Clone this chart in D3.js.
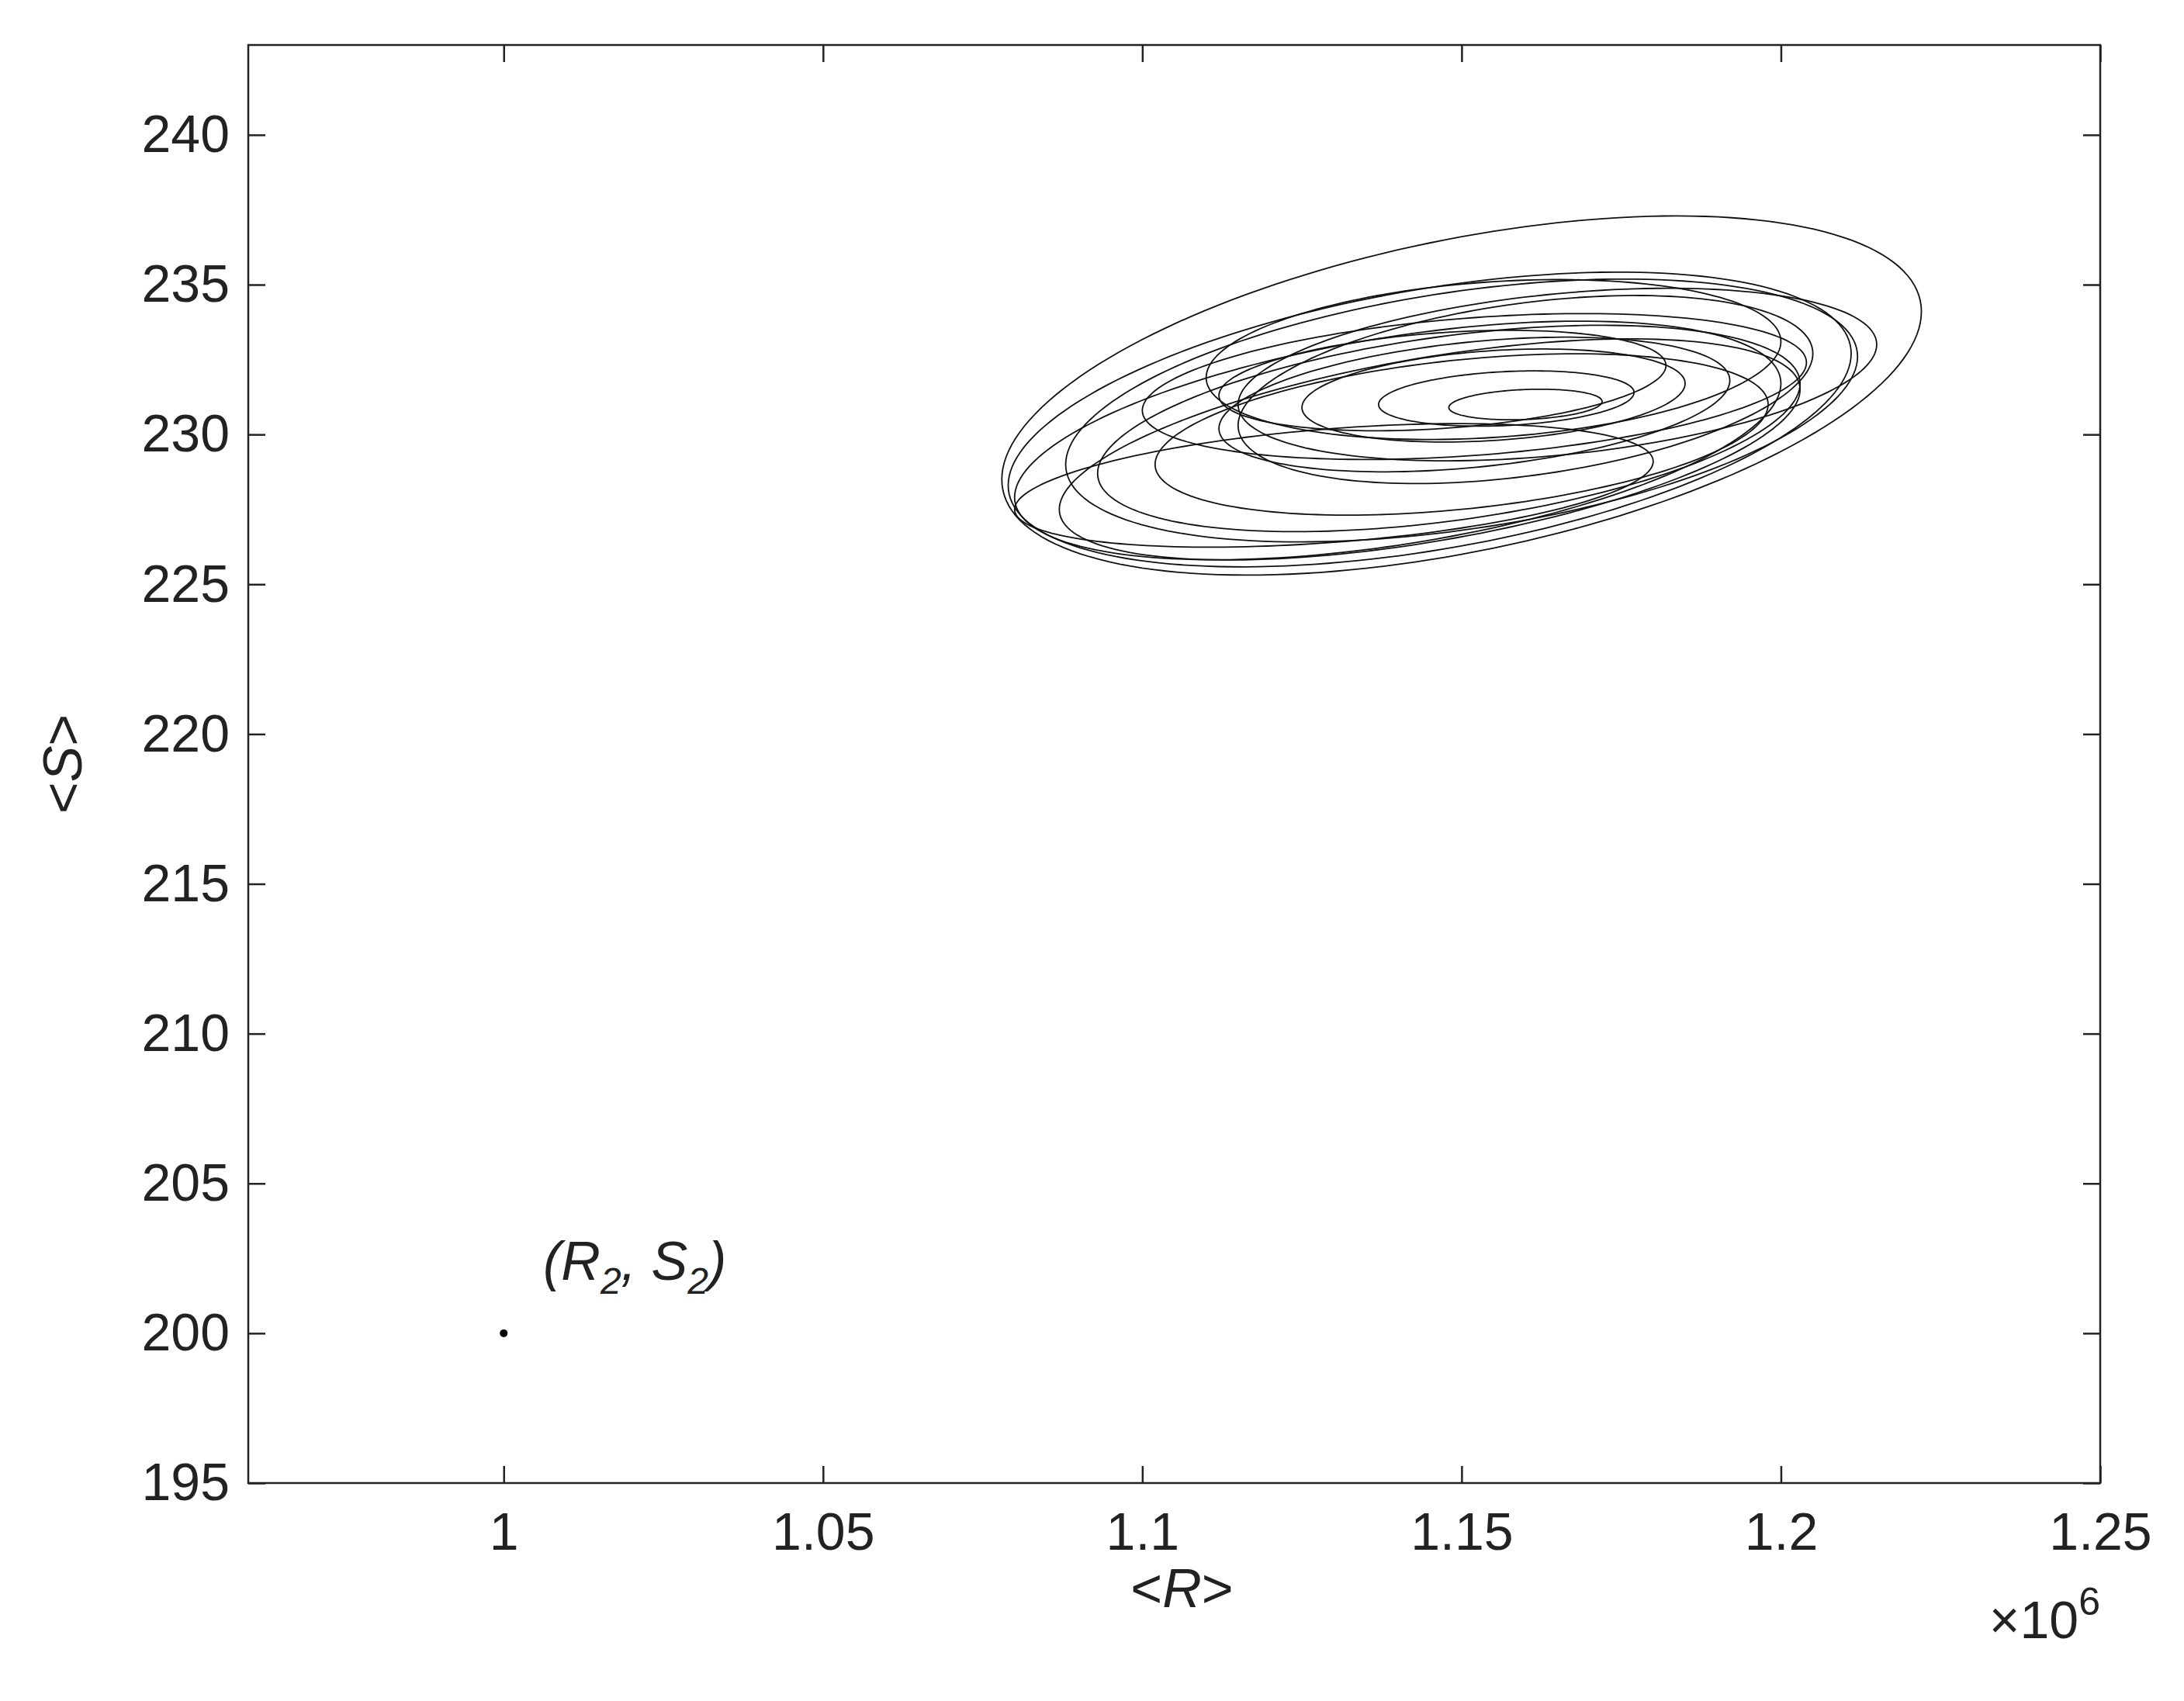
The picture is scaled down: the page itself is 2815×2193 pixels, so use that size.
<!DOCTYPE html>
<html><head><meta charset="utf-8">
<script src="https://cdn.jsdelivr.net/npm/d3@7"></script>
<style>body{margin:0;background:#fff}text{font-family:"Liberation Sans",Arial,sans-serif;fill:#222}</style>
</head><body><svg id="c" width="2815" height="2193"></svg>
<script>
const xTicks=[1,1.05,1.1,1.15,1.2,1.25];
const yTicks=[195,200,205,210,215,220,225,230,235,240];
// loops of the trajectory: centre R (x1e6), centre S, R half-width, S half-height, tilt coupling
const loopCR=[1.150,1.145,1.150,1.155,1.130,1.160,1.148,1.152,1.155,1.157,1.160,1.140,1.165,1.145,1.152,1.150,1.147];
const loopCS=[231.3,230.5,230.8,232.5,228.3,231.5,230.2,231.0,231.3,231.2,231.0,229.8,232.0,229.5,231.6,230.0,231.8];
const loopA=[0.072,0.066,0.062,0.045,0.050,0.045,0.055,0.040,0.030,0.020,0.012,0.060,0.050,0.058,0.052,0.048,0.035];
const loopB=[5.3,4.4,4.0,2.6,1.9,2.9,3.1,2.1,1.5,0.9,0.5,3.5,2.7,3.1,2.3,2.5,1.6];
const loopC=[2.8,2.2,1.8,0.6,0.8,1.2,1.5,0.8,0.4,0.2,0.1,1.9,1.0,2.0,0.8,1.0,0.5];
const eqR=[1.0], eqS=[200];

const W=2815,H=2193,m={l:320,r:2707,t:58,b:1912};
const svg=d3.select("#c");
const x=d3.scaleLinear().domain([0.96,1.25]).range([m.l,m.r]);
const y=d3.scaleLinear().domain([195,243]).range([m.b,m.t]);
const fs=68,tl=22;
svg.append("g").attr("transform",`translate(0,${m.b})`).call(d3.axisBottom(x).tickValues(xTicks).tickFormat(d3.format("")).tickSizeInner(-tl).tickSizeOuter(0).tickPadding(38));
svg.append("g").attr("transform",`translate(${m.l},0)`).call(d3.axisLeft(y).tickValues(yTicks).tickSizeInner(-tl).tickSizeOuter(0).tickPadding(24));
svg.append("g").attr("transform",`translate(0,${m.t})`).call(d3.axisTop(x).tickValues(xTicks).tickFormat("").tickSizeInner(-tl).tickSizeOuter(0));
svg.append("g").attr("transform",`translate(${m.r},0)`).call(d3.axisRight(y).tickValues(yTicks).tickFormat("").tickSizeInner(-tl).tickSizeOuter(0));
svg.selectAll(".domain").remove();
svg.selectAll(".tick line").attr("stroke","#222").attr("stroke-width",2.5);
svg.selectAll(".tick text").style("font-size",fs+"px").attr("fill","#222");
svg.append("rect").attr("x",m.l).attr("y",m.t).attr("width",m.r-m.l).attr("height",m.b-m.t).attr("fill","none").attr("stroke","#222").attr("stroke-width",2.5);

const line=d3.line().x(d=>x(d[0])).y(d=>y(d[1])).curve(d3.curveLinearClosed);
const g=svg.append("g");
loopCR.forEach((cr,i)=>{
  const pts=d3.range(0,2*Math.PI,Math.PI/90).map(t=>[cr+loopA[i]*Math.cos(t),loopCS[i]+loopB[i]*Math.sin(t)+loopC[i]*Math.cos(t)]);
  g.append("path").attr("d",line(pts)).attr("fill","none").attr("stroke","#111").attr("stroke-width",1.8);
});
svg.selectAll(".eq").data(eqR).enter().append("circle").attr("cx",d=>x(d)).attr("cy",(d,i)=>y(eqS[i])).attr("r",5).attr("fill","#000");

const lab=svg.append("text").attr("x",700).attr("y",1650).style("font-size","70px").style("font-style","italic");
lab.append("tspan").text("(R");
lab.append("tspan").text("2").attr("dy",18).style("font-size","48px");
lab.append("tspan").text(", S").attr("dy",-18);
lab.append("tspan").text("2").attr("dy",18).style("font-size","48px");
lab.append("tspan").text(")").attr("dy",-18);

const xl=svg.append("text").attr("x",(m.l+m.r)/2+10).attr("y",2072).attr("text-anchor","middle").style("font-size","70px");
xl.append("tspan").text("<");xl.append("tspan").text("R").style("font-style","italic");xl.append("tspan").text(">");
const yl=svg.append("text").attr("transform",`translate(105,${(m.t+m.b)/2}) rotate(-90)`).attr("text-anchor","middle").style("font-size","70px");
yl.append("tspan").text("<");yl.append("tspan").text("S").style("font-style","italic");yl.append("tspan").text(">");

const ex=svg.append("text").attr("x",m.r).attr("y",2112).attr("text-anchor","end").style("font-size","68px");
ex.append("tspan").text("×10");
ex.append("tspan").text("6").attr("dy",-30).style("font-size","50px");
</script></body></html>
